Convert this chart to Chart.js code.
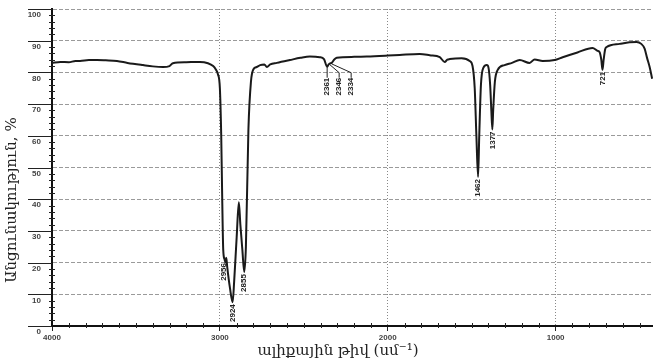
<!DOCTYPE html>
<html>
<head>
<meta charset="utf-8">
<script src="https://cdn.jsdelivr.net/npm/chart.js@4.4.1/dist/chart.umd.min.js"></script>
<style>
  html, body { margin: 0; padding: 0; background: #fff; }
  #wrap { width: 653px; height: 362px; }
</style>
</head>
<body>
<div id="wrap"><canvas id="irChart"></canvas></div>
<script>
// IR spectrum

const wavenumber = [
  4000, 3950, 3900, 3860, 3833, 3780, 3732, 3680, 3613, 3550, 3458, 3400, 3339, 3300, 3280,
  3200, 3119, 3071, 3040, 3025, 3012, 3000, 2992, 2986, 2980, 2972, 2966, 2962, 2956, 2940,
  2924, 2915, 2900, 2887, 2878, 2866, 2855, 2845, 2830, 2815, 2800, 2780, 2760, 2735, 2720,
  2700, 2661, 2583, 2520, 2464, 2405, 2380, 2361, 2352, 2346, 2334, 2320, 2304, 2200, 2125,
  2000, 1929, 1810, 1750, 1690, 1661, 1645, 1631, 1560, 1512, 1495, 1482, 1472, 1462, 1455,
  1445, 1430, 1410, 1400, 1390, 1383, 1377, 1372, 1362, 1345, 1304, 1260, 1214, 1155, 1125,
  1077, 1006, 958, 870, 780, 750, 738, 728, 721, 714, 705, 696, 619, 560, 518,
  490, 470, 455, 440, 425
];
const transmittance = [
  83.0, 83.3, 83.2, 83.6, 83.6, 83.9, 83.9, 83.8, 83.6, 83.0, 82.3, 81.9, 81.7, 82.0, 82.9,
  83.2, 83.3, 82.9, 82.0, 81.0, 79.5, 75.0, 60.0, 40.0, 24.0, 21.0, 20.0, 21.5, 18.5, 12.0,
  7.5, 14.0, 28.0, 39.0, 32.0, 24.0, 17.0, 25.0, 62.0, 77.0, 81.0, 81.7, 82.3, 82.5, 81.7,
  82.5, 83.0, 83.9, 84.6, 85.0, 84.8, 84.2, 81.8, 82.5, 82.8, 83.0, 84.0, 84.6, 84.9, 85.0,
  85.3, 85.5, 85.8, 85.4, 84.8, 83.3, 84.0, 84.2, 84.5, 83.6, 82.0, 75.0, 60.0, 47.0, 60.0,
  76.0, 81.5, 82.3, 81.5, 76.0, 68.0, 62.0, 68.0, 77.0, 80.8, 82.3, 83.0, 83.9, 83.0, 84.1,
  83.6, 83.9, 84.8, 86.3, 87.7, 86.8, 86.4, 84.0, 80.8, 84.0, 87.3, 88.0, 89.0, 89.5, 89.6,
  89.0, 87.5, 84.5, 81.7, 78.0
];

// peak labels
const peakLabels = ['2956', '2924', '2855', '2361', '2346', '2334', '1462', '1377', '721'];
const peakWn = [2956, 2924, 2855, 2361, 2346, 2334, 1462, 1377, 721];
const peakT = [20.5, 7.5, 17.0, 81.8, 82.8, 83.0, 47.0, 62.0, 80.8];

// axis ticks
const xTickLabels = [4000, 3000, 2000, 1000];
const yTickLabels = [0, 10, 20, 30, 40, 50, 60, 70, 80, 90, 100];

const xTitle = 'ալիքային թիվ (սմ⁻¹)';
const yTitle = 'Անցունակություն, %';

const points = wavenumber.map((w, i) => ({ x: w, y: transmittance[i] }));

// minor ticks, long y ticks, axis titles and peak labels
const spectrumExtras = {
  id: 'spectrumExtras',
  afterDraw(chart) {
    const { ctx, chartArea, scales } = chart;
    const xs = scales.x, ys = scales.y;
    ctx.save();
    ctx.strokeStyle = '#222';
    ctx.lineWidth = 1;

    // y ticks: long majors to the left, small minors on the axis
    for (let v = 0; v <= 100; v += 2) {
      const py = Math.round(ys.getPixelForValue(v)) + 0.5;
      ctx.beginPath();
      if (yTickLabels.includes(v)) {
        ctx.moveTo(chartArea.left - 24, py);
        ctx.lineTo(chartArea.left, py);
      } else {
        ctx.moveTo(chartArea.left - 3, py);
        ctx.lineTo(chartArea.left + 3, py);
      }
      ctx.stroke();
    }
    // x minor ticks every 100
    for (let w = 3900; w > xs.min; w -= 100) {
      if (w % 1000 === 0) continue;
      const px = Math.round(xs.getPixelForValue(w)) + 0.5;
      ctx.beginPath();
      ctx.moveTo(px, chartArea.bottom - 3);
      ctx.lineTo(px, chartArea.bottom + 2);
      ctx.stroke();
    }

    // titles
    ctx.fillStyle = '#222';
    ctx.font = '15px "DejaVu Serif", serif';
    ctx.textAlign = 'center';
    ctx.textBaseline = 'middle';
    ctx.fillText(xTitle, 338, 351);
    ctx.save();
    ctx.translate(12, 200);
    ctx.rotate(-Math.PI / 2);
    ctx.fillText(yTitle, 0, 0);
    ctx.restore();

    // peak labels, rotated; close peaks share a fanned leader
    ctx.font = 'bold 8px "Liberation Sans", Arial, sans-serif';
    ctx.textAlign = 'right';
    ctx.textBaseline = 'middle';
    let prev = null;
    peakLabels.forEach((lab, i) => {
      const ax = xs.getPixelForValue(peakWn[i]);
      const ay = ys.getPixelForValue(peakT[i]);
      const next = i + 1 < peakLabels.length &&
        peakWn[i] - peakWn[i + 1] < 40 && Math.abs(peakT[i] - peakT[i + 1]) < 3;
      const inGroup = prev && prev.wn - peakWn[i] < 40 && Math.abs(prev.t - peakT[i]) < 3;
      let lx = ax, top = ay + 2;
      if (i === 0) lx = ax - 3; // sits left of the steep edge, as in the source
      if (inGroup) {
        lx = prev.lx + 12;
        top = prev.top;
        ctx.beginPath();
        ctx.moveTo(ax, ay + 1);
        ctx.lineTo(lx, top - 5);
        ctx.lineTo(lx, top);
        ctx.stroke();
      } else if (next) {
        top = ay + 11;
        ctx.beginPath();
        ctx.moveTo(ax, ay);
        ctx.lineTo(ax, top);
        ctx.stroke();
      }
      ctx.save();
      ctx.translate(lx, top);
      ctx.rotate(-Math.PI / 2);
      ctx.fillText(lab, 0, 0);
      ctx.restore();
      prev = { wn: peakWn[i], t: peakT[i], lx: lx, top: top };
    });
    ctx.restore();
  }
};

const chart = new Chart(document.getElementById('irChart'), {
  type: 'line',
  data: {
    datasets: [{
      data: points,
      borderColor: '#1a1a1a',
      borderWidth: 2,
      pointRadius: 0,
      fill: false,
      cubicInterpolationMode: 'monotone'
    }]
  },
  options: {
    responsive: true,
    maintainAspectRatio: false,
    animation: false,
    layout: { padding: { top: 9, right: 0, left: 0, bottom: 0 } },
    plugins: {
      legend: { display: false },
      tooltip: { enabled: false }
    },
    scales: {
      x: {
        type: 'linear',
        reverse: true,
        min: 420,
        max: 4000,
        afterFit: (s) => { s.height = 36; s.paddingLeft = 0; s.paddingRight = 0; },
        border: { color: '#111', width: 2, dash: [1, 2] },
        grid: {
          color: (c) => (c.tick && c.tick.value % 1000 === 0 && c.tick.value < 4000) ? '#888' : 'transparent',
          tickColor: (c) => (c.tick && xTickLabels.includes(c.tick.value)) ? '#222' : 'transparent',
          tickLength: 5,
          lineWidth: 1
        },
        ticks: {
          stepSize: 100,
          autoSkip: false,
          maxRotation: 0,
          padding: 2,
          color: '#444',
          font: { family: '"Liberation Sans", Arial, sans-serif', size: 8, weight: 'bold' },
          callback: (v) => xTickLabels.includes(v) ? String(v) : ''
        }
      },
      y: {
        min: 0,
        max: 100,
        afterFit: (s) => { s.width = 52; s.paddingTop = 0; s.paddingBottom = 0; },
        border: { color: '#111', width: 2, dash: [4, 2] },
        grid: {
          color: (c) => (c.tick && c.tick.value > 0) ? '#9a9a9a' : 'transparent',
          drawTicks: false,
          lineWidth: 1
        },
        ticks: {
          stepSize: 10,
          padding: 11,
          labelOffset: 6,
          color: '#444',
          font: { family: '"Liberation Sans", Arial, sans-serif', size: 8, weight: 'bold' },
          callback: (v) => yTickLabels.includes(v) ? String(v) : ''
        }
      }
    }
  },
  plugins: [spectrumExtras]
});
</script>
</body>
</html>
